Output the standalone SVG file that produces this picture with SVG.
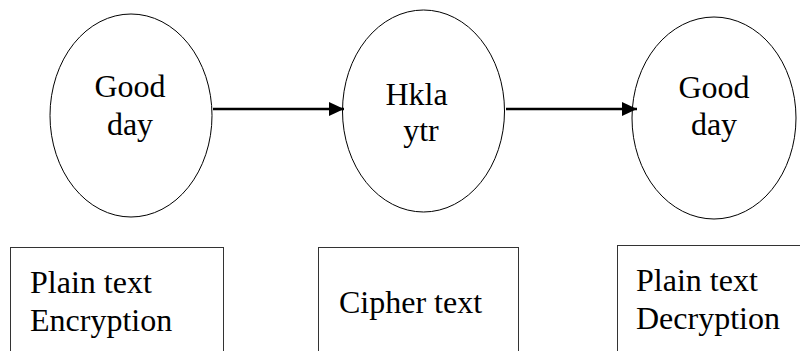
<svg xmlns="http://www.w3.org/2000/svg" width="800" height="351" viewBox="0 0 800 351">
<defs>
<style>
.node ellipse{fill:#fff;stroke:#000;stroke-width:1}
.node rect{fill:#fff;stroke:#333;stroke-width:1}
text{font-family:"Liberation Serif","Times New Roman",serif;font-size:32px;fill:#000}
.c{text-anchor:middle}
.edge{stroke:#000;stroke-width:2.5;fill:none}
</style>
<marker id="ah" markerWidth="15" markerHeight="14" refX="15" refY="7" orient="auto" markerUnits="userSpaceOnUse">
<path d="M0,0 L15,7 L0,14 Z" fill="#000"/>
</marker>
</defs>
<rect width="800" height="351" fill="#fff"/>
<g id="n1" class="node">
<ellipse cx="131" cy="115.5" rx="81" ry="101.5"/>
<text class="c" x="130" y="96.5">Good</text>
<text class="c" x="130" y="135">day</text>
</g>
<g id="n2" class="node">
<ellipse cx="423.5" cy="111" rx="81" ry="101"/>
<text class="c" x="416.5" y="105">Hkla</text>
<text class="c" x="421" y="141">ytr</text>
</g>
<g id="n3" class="node">
<ellipse cx="714" cy="118" rx="82" ry="101"/>
<text class="c" x="714" y="98">Good</text>
<text class="c" x="714" y="135">day</text>
</g>
<g id="b1" class="node">
<rect x="10.5" y="247.5" width="213" height="110"/>
<text x="30" y="293">Plain text</text>
<text x="30" y="331">Encryption</text>
</g>
<g id="b2" class="node">
<rect x="318.5" y="247.5" width="200" height="110"/>
<text x="339" y="313">Cipher text</text>
</g>
<g id="b3" class="node">
<rect x="617.5" y="245.5" width="200" height="110"/>
<text x="636" y="291">Plain text</text>
<text x="636" y="329">Decryption</text>
</g>
<g id="connectors">
<line class="edge" x1="213" y1="109" x2="344" y2="109" marker-end="url(#ah)"/>
<line class="edge" x1="506" y1="109" x2="637" y2="109" marker-end="url(#ah)"/>
</g>
</svg>
